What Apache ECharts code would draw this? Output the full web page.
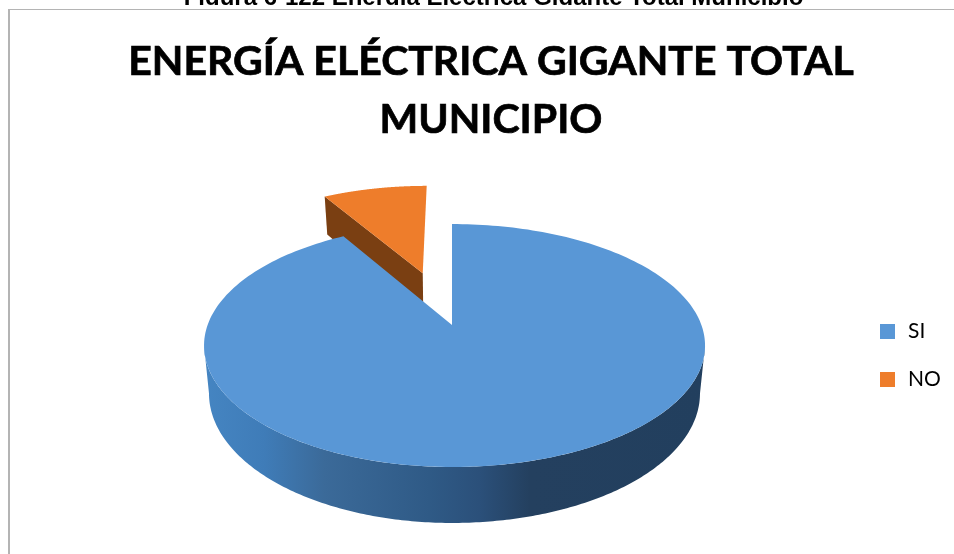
<!DOCTYPE html>
<html><head><meta charset="utf-8">
<style>html,body{margin:0;padding:0;background:#fff}#c{width:954px;height:554px}</style>
<script src="https://cdn.jsdelivr.net/npm/echarts@6/dist/echarts.min.js"></script>
</head><body><div id="c"></div>
<script>
const categories = ['SI', 'NO'];
const values = [91.5, 8.5];
const colors = ['#5997d6', '#ee7d2b'];
const explode = [0, 0.49];
const caption = 'Figura 6-122 Energía Eléctrica Gigante Total Municipio';
const titleText = 'ENERGÍA ELÉCTRICA GIGANTE TOTAL\nMUNICIPIO';

const total = values.reduce((a, b) => a + b, 0);
const P = {cx: 452, cy: 325, aL: 244.4, aR: 249.4, b: 118, k: 0.169, d: 46.5, shrink: 0.02};
function project(X, Y, Z) {
  const w = 1 - P.k * Y, a = X < 0 ? P.aL : P.aR;
  return [P.cx + a * X / w * (1 - P.shrink * Z), P.cy + P.b * Y / w + P.d * Z / w];
}
function renderSlice(params, api) {
  const idx = params.seriesIndex;
  let start = 0;
  for (let i = 0; i < idx; i++) start += values[i];
  const v = api.value(0);
  const t0 = start / total * 2 * Math.PI, t1 = (start + v) / total * 2 * Math.PI;
  const mid = (t0 + t1) / 2, ex = explode[idx];
  const ox = Math.sin(mid) * ex, oy = -Math.cos(mid) * ex;
  const rim = (t, z) => project(ox + Math.sin(t), oy - Math.cos(t), z);
  const apex = z => project(ox, oy, z);
  const top = [apex(0)];
  const N = 240;
  for (let i = 0; i <= N; i++) top.push(rim(t0 + (t1 - t0) * i / N, 0));
  const children = [];
  if (idx === 0) {
    const a0 = Math.acos(-P.k), a1 = 2 * Math.PI - a0, wall = [];
    for (let i = 0; i <= N; i++) wall.push(rim(a0 + (a1 - a0) * i / N, 0));
    for (let i = N; i >= 0; i--) wall.push(rim(a0 + (a1 - a0) * i / N, 1));
    children.push({type: 'polygon', shape: {points: wall}, style: {fill: {
      type: 'linear', x: 0, y: 0, x2: 1, y2: 0, colorStops: [
        {offset: 0, color: '#4585c2'}, {offset: 0.12, color: '#3f7cb8'},
        {offset: 0.24, color: '#3b6a99'}, {offset: 0.45, color: '#2f5a86'},
        {offset: 0.55, color: '#2b507a'}, {offset: 0.65, color: '#24405f'},
        {offset: 1, color: '#223f5e'}]}}});
  } else {
    children.push({type: 'polygon', shape: {points: [rim(t0, 0), apex(0), apex(1), rim(t0, 1)]},
      style: {fill: '#7a3f12'}});
  }
  children.push({type: 'polygon', shape: {points: top}, style: {fill: api.visual('color')}});
  return {type: 'group', children};
}
const chart = echarts.init(document.getElementById('c'), null, {renderer: 'canvas'});
chart.setOption({
  animation: false,
  backgroundColor: '#fff',
  title: [
    {text: caption, left: 488.5, top: -19, textAlign: 'center',
     textStyle: {fontFamily: 'Liberation Sans', fontWeight: 'bold', fontSize: 24, color: '#000'}},
    {text: titleText, left: 486, top: 28, textAlign: 'center',
     textStyle: {fontFamily: 'Lato', fontWeight: 'bold', fontSize: 41, lineHeight: 58, color: '#000',
       textBorderColor: '#000', textBorderWidth: 0.7}}
  ],
  legend: {
    data: categories, orient: 'vertical', left: 880, top: 321, icon: 'rect', padding: 0,
    itemWidth: 15, itemHeight: 15, itemGap: 27, selectedMode: false,
    textStyle: {fontFamily: 'Lato', fontSize: 21, color: '#000', padding: [0, 0, 0, 8]}
  },
  graphic: [
    {type: 'rect', silent: true, shape: {x: 0, y: 5, width: 954, height: 4}, style: {fill: '#fff'}, z: 50},
    {type: 'line', silent: true, shape: {x1: 8, y1: 9.5, x2: 954, y2: 9.5}, style: {stroke: '#b4b4b4', lineWidth: 1}, z: 51},
    {type: 'line', silent: true, shape: {x1: 9, y1: 9, x2: 9, y2: 554}, style: {stroke: '#b4b4b4', lineWidth: 2}, z: 51}
  ],
  series: categories.map((name, i) => ({
    type: 'custom', name, coordinateSystem: 'none', z: 5 - i,
    itemStyle: {color: colors[i]},
    renderItem: renderSlice, data: [[values[i]]]
  }))
});
</script></body></html>
